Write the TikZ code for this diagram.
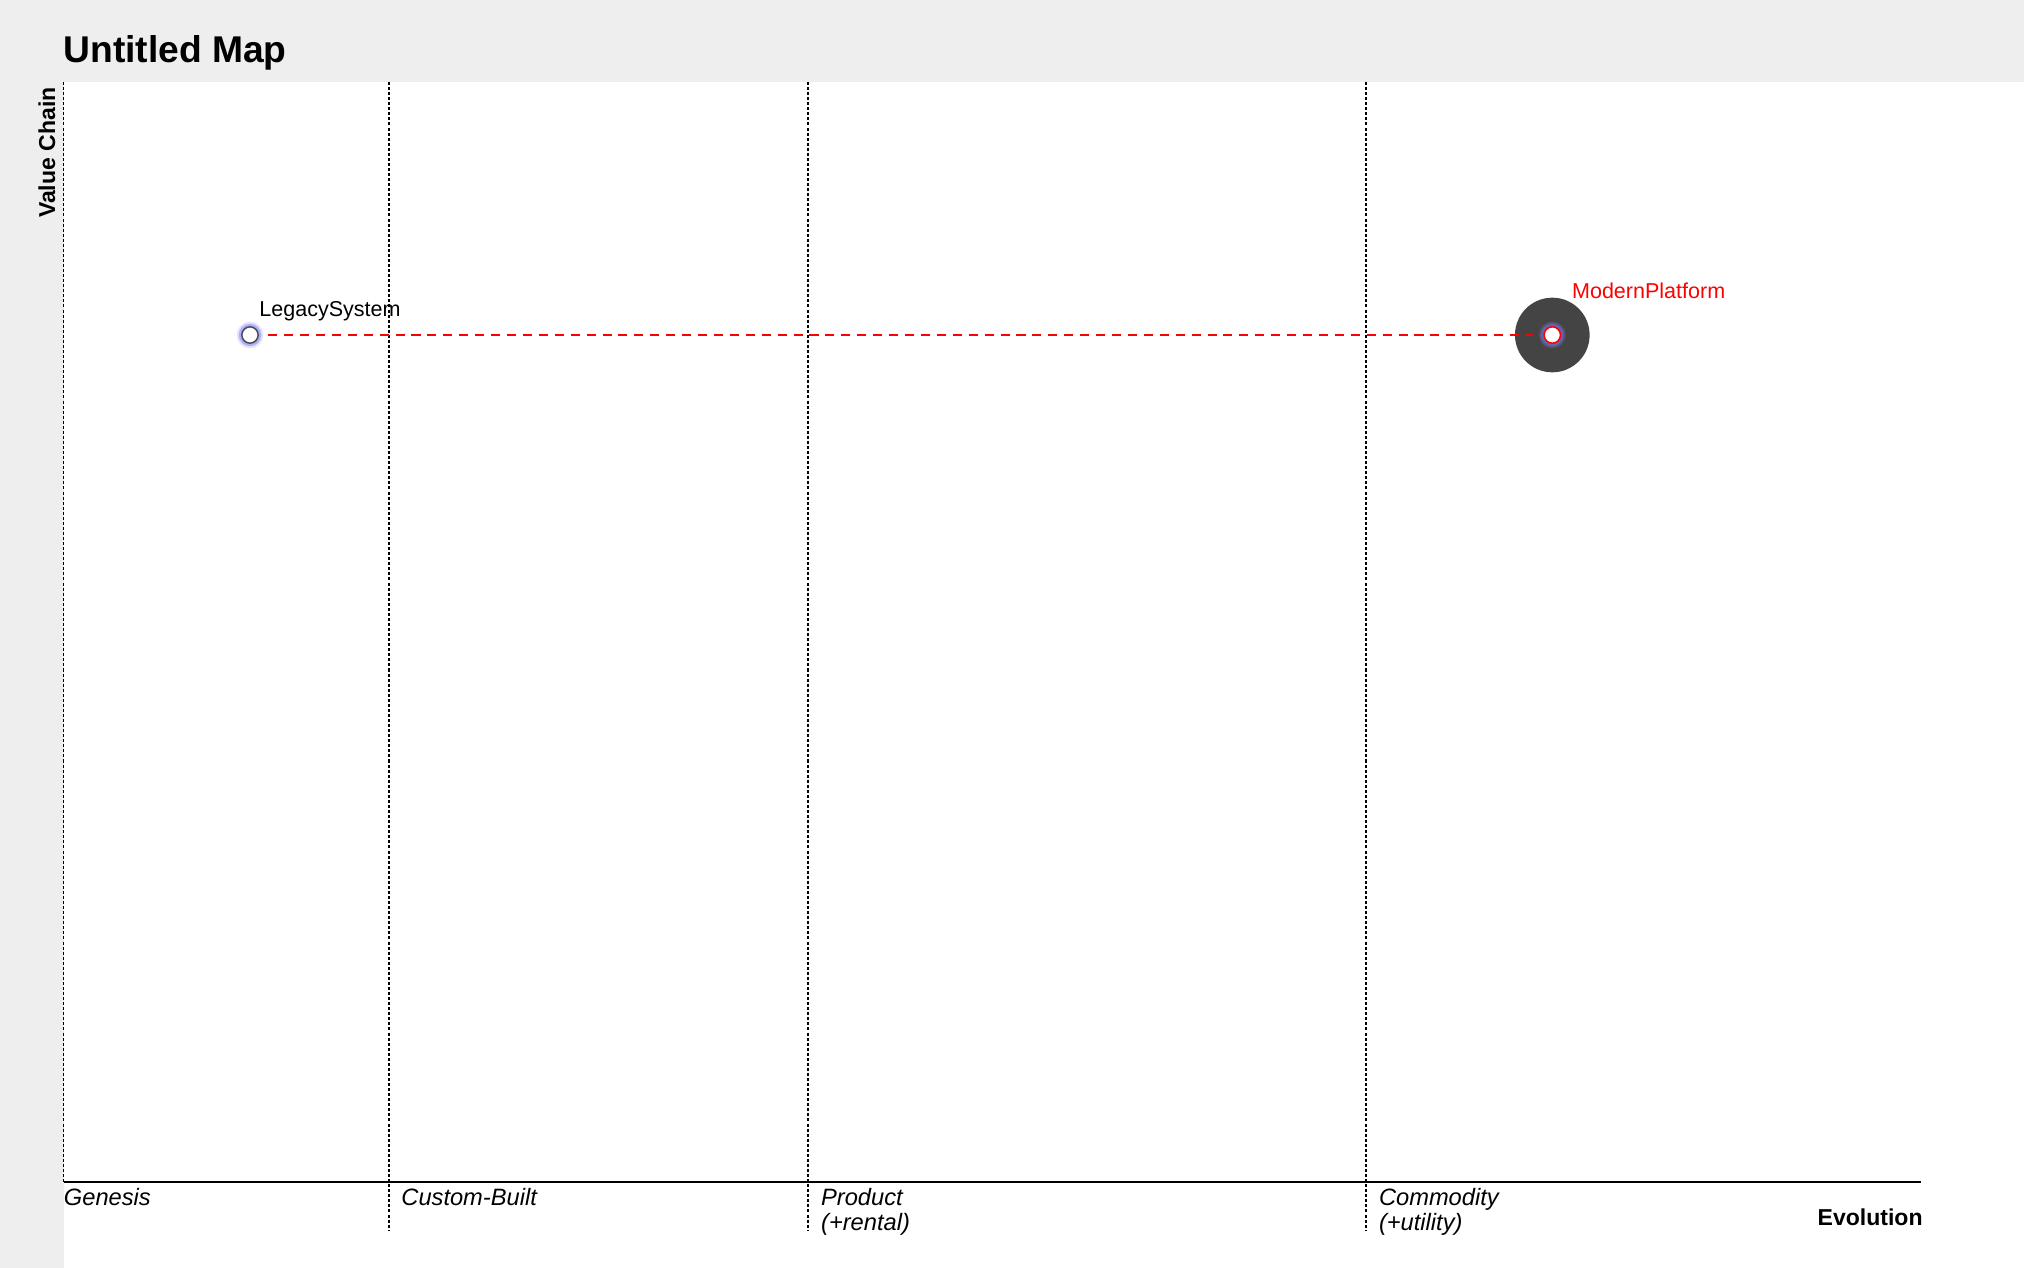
\documentclass[tikz,border=0pt]{standalone}
\usepackage{fontspec}
\setmainfont{Liberation Sans}
\usetikzlibrary{positioning}
\definecolor{mapgrey}{HTML}{EEEEEE}
\definecolor{inertiagrey}{HTML}{444444}

\begin{document}
\begin{tikzpicture}[x = 0.4648pt, y = -0.4648pt,
                        stage/.style = {line width = 0.7pt, dash pattern = on 1.4pt off 0.95pt},
                        stagelabel/.style = {anchor = base west, inner sep = 0pt, align = left,
                                             font = \fontsize{11}{11.6}\selectfont\itshape},
                        axislabel/.style = {inner sep = 0pt, font = \fontsize{10.7}{12}\selectfont\bfseries},
                        component/.style = {circle, draw = black!70, fill = white, line width = 0.7pt,
                                            minimum size = 7.6pt, inner sep = 0pt,
                                            preaction = {draw = blue!45, line width = 4.6pt, opacity = 0.25},
                                            preaction = {draw = blue!55, line width = 2.8pt, opacity = 0.45}},
                        inertia/.style = {circle, fill = inertiagrey, minimum size = 34.7pt, inner sep = 0pt},
                        complabel/.style = {anchor = base west, inner sep = 0pt, font = \fontsize{10}{12}\selectfont},
                        evolve/.style = {red, line width = 0.9pt, dash pattern = on 4.2pt off 3.2pt,
                                         shorten < = 4.3pt, shorten > = 4.8pt}]
      \useasboundingbox (0, 0) rectangle (2024, 1268);
      \fill [mapgrey] (0, 0) rectangle (2024, 1268);
      \fill [white] (63.5, 82) rectangle (2024, 1268);

      \node [anchor = base west, inner sep = 0pt, font = \fontsize{17.3}{20}\selectfont\bfseries] (title) at (63, 63){Untitled Map};
      \node [axislabel, rotate = 90, anchor = base east] (valuechain) at (55, 87){Value Chain};
      \node [axislabel, anchor = base east] (evolution) at (1923, 1225){Evolution};

      % evolution stages
      \draw [stage] (63.5, 82) -- (63.5, 1181.7);
      \draw [stage] (389, 82) -- (389, 1230);
      \draw [stage] (808, 82) -- (808, 1230);
      \draw [stage] (1366, 82) -- (1366, 1230);
      \draw [line width = 0.9pt] (63.5, 1181.7) -- (1921, 1181.7);
      \node [stagelabel] (genesis) at (63.5, 1205){Genesis};
      \node [stagelabel] (custom) at (401, 1205){Custom-Built};
      \node [stagelabel] (product) at (820.7, 1230){Product\\(+rental)};
      \node [stagelabel] (commodity) at (1378.6, 1230){Commodity\\(+utility)};

      % components
      \node [inertia] (modernin) at (1552.3, 335){};
      \node [component] (legacy) at (250, 335){};
      \node [component, draw = red] (modern) at (1552.3, 335){};
      \draw [evolve] (legacy) -- (modern);
      \node [complabel] (legacylabel) at (259, 316.7){LegacySystem};
      \node [complabel, red] (modernlabel) at (1571.7, 299){ModernPlatform};
    \end{tikzpicture}
\end{document}
